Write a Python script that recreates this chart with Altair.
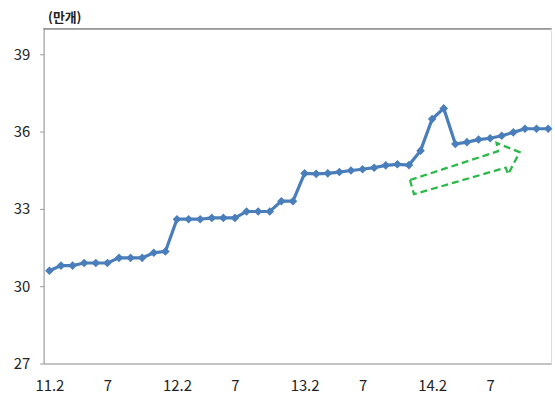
import altair as alt
import pandas as pd

# periods: Feb–Dec each year (Jan combined with Feb)
years = [11, 12, 13, 14]
months = [2, 3, 4, 5, 6, 7, 8, 9, 10, 11, 12]
periods = [f"{y}.{m}" for y in years for m in months]

values = [
    30.6, 30.8, 30.8, 30.9, 30.9, 30.9, 31.1, 31.1, 31.1, 31.3, 31.35,
    32.6, 32.6, 32.6, 32.65, 32.65, 32.65, 32.9, 32.9, 32.9, 33.3, 33.3,
    34.38, 34.36, 34.38, 34.43, 34.49, 34.54, 34.6, 34.69, 34.73, 34.7, 35.26,
    36.49, 36.9, 35.52, 35.59, 35.69, 35.74, 35.84, 35.97, 36.11, 36.11, 36.11,
]

y_min, y_max = 27, 40
y_ticks = [27, 30, 33, 36, 39]

# annotation arrow outline (index units, value units)
arrow_x = [31.09, 38.69, 38.55, 40.54, 39.55, 39.34, 31.43, 31.09]
arrow_y = [34.12, 35.24, 35.56, 35.20, 34.34, 34.60, 33.57, 34.12]

df = pd.DataFrame({"i": list(range(len(periods))), "period": periods, "v": values})
arrow_df = pd.DataFrame({"x": arrow_x, "y": arrow_y, "o": list(range(len(arrow_x)))})

tick_labels = []
for p in periods:
    y, m = p.split(".")
    tick_labels.append(p if m == "2" else ("7" if m == "7" else ""))
tick_vals = [i for i, t in enumerate(tick_labels) if t]
label_expr = "[" + ",".join(f"'{t}'" for t in tick_labels) + "][datum.value]"

FONT = "Noto Sans CJK KR"
xscale = alt.Scale(domain=[-0.5, 43.25], nice=False, zero=False)

x_enc = alt.X(
    "i:Q",
    scale=xscale,
    axis=alt.Axis(
        values=tick_vals, labelExpr=label_expr, title=None, grid=False,
        ticks=False, labelFontSize=15, labelColor="#222", labelPadding=15,
        domainColor="#999", labelFont=FONT, labelFlush=False,
    ),
)
y_enc = alt.Y(
    "v:Q",
    scale=alt.Scale(domain=[y_min, y_max], nice=False, zero=False),
    axis=alt.Axis(
        values=y_ticks, grid=False, tickSize=4, tickColor="#999",
        domainColor="#999", labelFontSize=15, labelColor="#222", labelPadding=10,
        labelFont=FONT,
        title="(만개)", titleAngle=0, titleX=4, titleY=-4, titleAlign="left",
        titleBaseline="bottom", titleFontSize=13, titleFont=FONT,
        titleFontWeight="bold", titleColor="#222",
    ),
)

line = alt.Chart(df).mark_line(color="#4A7EBB", strokeWidth=3.2).encode(x=x_enc, y=y_enc)
pts = alt.Chart(df).mark_point(
    shape="diamond", filled=True, color="#4A7EBB", size=75, opacity=1
).encode(x="i:Q", y="v:Q")

top_border = alt.Chart(df).mark_rule(color="#999", strokeWidth=1).encode(y=alt.datum(y_max))

arrow = alt.Chart(arrow_df).mark_line(
    color="#2DB84A", strokeWidth=2.3, strokeDash=[7, 4]
).encode(x="x:Q", y="y:Q", order="o:Q")

chart = (
    alt.layer(line, pts, top_border, arrow)
    .properties(width=512, height=338, padding={"left": 13, "top": 10, "right": 0, "bottom": 0})
    .configure_view(stroke=None)
    .configure(background="white")
)

chart.save("out.html", embed_options={"renderer": "svg", "actions": False})
